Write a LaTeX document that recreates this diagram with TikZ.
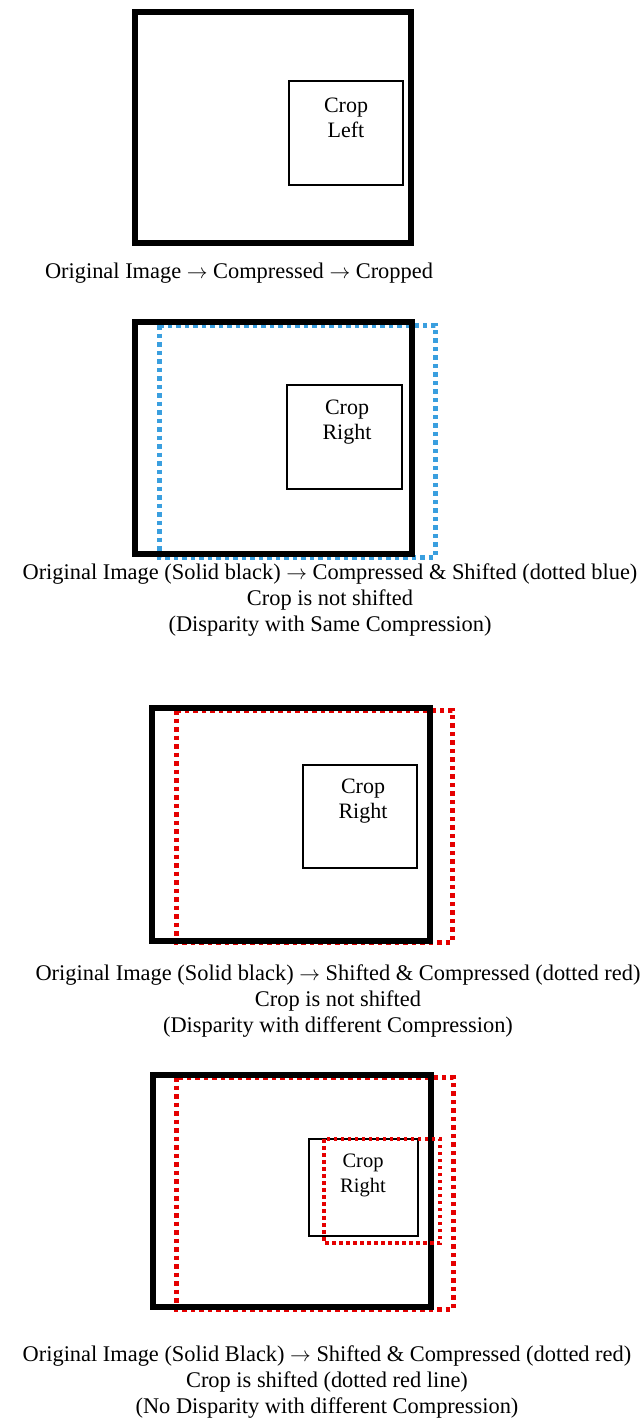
\documentclass[tikz,border=0pt]{standalone}
\usepackage{fontspec}
\setmainfont{Liberation Serif}
\newcommand{\toarrow}{$\rightarrow$}
\tikzset{
  imgframe/.style={draw=black, line width=6pt},
  cropframe/.style={draw=black, line width=2pt},
  shiftblue/.style={draw=cyan!75!blue!80, line width=5pt, dash pattern=on 4.5pt off 4pt},
  shiftred/.style={draw=red!90!black, line width=5pt, dash pattern=on 4.5pt off 4pt},
  cropred/.style={draw=red!90!black, line width=3.8pt, dash pattern=on 3.5pt off 3.5pt},
  capt/.style={font=\fontsize{22.4}{26}\selectfont, align=center, inner sep=0pt},
  croplabel/.style={font=\fontsize{22}{25}\selectfont, align=center, inner sep=0pt}
}
\begin{document}
\begin{tikzpicture}[x=1pt, y=-1pt]
  \useasboundingbox (0,0) rectangle (644,1418);

  % panel 1
  \draw[imgframe] (135,12) rectangle (411,243);
  \draw[cropframe] (289,81) rectangle (403,185);
  \node[croplabel] (leftcrop) at (346,118) {Crop\\Left};
  \node[capt] (capone) at (239,273) {Original Image \toarrow{} Compressed \toarrow{} Cropped};

  % panel 2
  \draw[shiftblue] (159,325) rectangle (435,557);
  \draw[imgframe] (135,322) rectangle (412,554);
  \draw[cropframe] (287,385) rectangle (402,489);
  \node[croplabel] (rightcropa) at (347,422) {Crop\\Right};
  \node[capt] (captwo) at (330,600) {Original Image (Solid black) \toarrow{} Compressed \& Shifted (dotted blue)\\
    Crop is not shifted\\(Disparity with Same Compression)};

  % panel 3
  \draw[shiftred] (176,710) rectangle (452,942);
  \draw[imgframe] (152,708) rectangle (430,941);
  \draw[cropframe] (303,765) rectangle (417,868);
  \node[croplabel] (rightcropb) at (363,801) {Crop\\Right};
  \node[capt] (capthree) at (338,1001) {Original Image (Solid black) \toarrow{} Shifted \& Compressed (dotted red)\\
    Crop is not shifted\\(Disparity with different Compression)};

  % panel 4
  \draw[shiftred] (176,1077) rectangle (453,1309);
  \draw[imgframe] (153,1075) rectangle (431,1307);
  \draw[cropframe] (309,1139) rectangle (418,1236);
  \draw[cropred] (324,1139) rectangle (440,1243);
  \node[croplabel, font=\fontsize{20.5}{25}\selectfont] (rightcropc) at (363,1175) {Crop\\Right};
  \node[capt] (capfour) at (327,1382) {Original Image (Solid Black) \toarrow{} Shifted \& Compressed (dotted red)\\
    Crop is shifted (dotted red line)\\(No Disparity with different Compression)};
\end{tikzpicture}
\end{document}
